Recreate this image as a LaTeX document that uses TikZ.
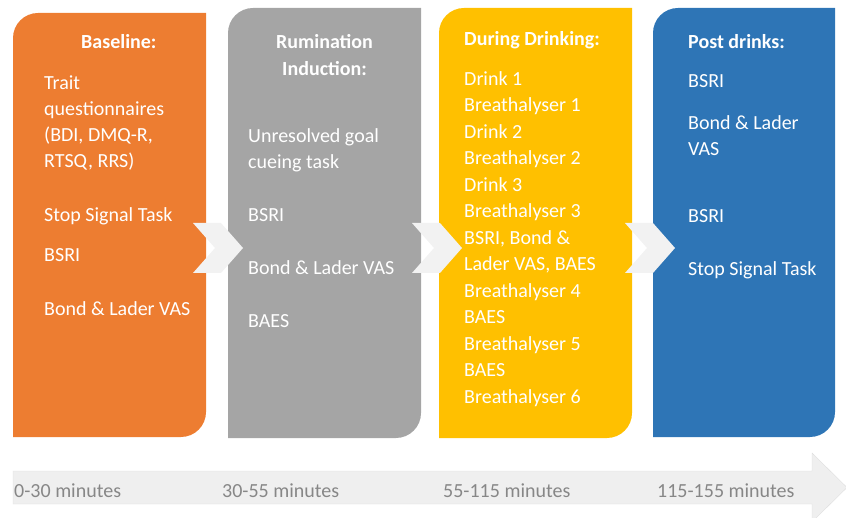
\documentclass[tikz,border=0pt]{standalone}
\usepackage{fontspec}
\setmainfont{Carlito}
\usepackage{tikz}

\definecolor{phaseA}{HTML}{ED7D31}
\definecolor{phaseB}{HTML}{A5A5A5}
\definecolor{phaseC}{HTML}{FFC000}
\definecolor{phaseD}{HTML}{2E75B6}
\definecolor{chev}{HTML}{F2F2F2}
\definecolor{timefill}{HTML}{EFEFEF}
\definecolor{timeline}{HTML}{DEDEDE}
\definecolor{timetext}{HTML}{878787}

\begin{document}
\begin{tikzpicture}[x=1pt, y=-1pt,
  txt/.style = {anchor=base west, inner sep=0, text=white, align=left,
                font=\fontsize{20}{26.2}\selectfont},
  ttl/.style = {txt, font=\fontsize{20}{27}\selectfont\bfseries},
  lbl/.style = {anchor=base west, inner sep=0, text=timetext,
                font=\fontsize{20}{24}\selectfont}]
\useasboundingbox (0,0) rectangle (846,518);
% phase panels
\fill[phaseA] (13,200) [rounded corners=25] -- (13,13) -- (100,13) [sharp corners] -- (206,13) -- (206,200)
  [rounded corners=25] -- (206,437) -- (100,437) [sharp corners] -- (13,437) -- cycle;
\fill[phaseB] (228,200) [rounded corners=25] -- (228,8) -- (320,8) [sharp corners] -- (421,8) -- (421,200)
  [rounded corners=25] -- (421,438) -- (320,438) [sharp corners] -- (228,438) -- cycle;
\fill[phaseC] (439,200) [rounded corners=25] -- (439,8) -- (530,8) [sharp corners] -- (632,8) -- (632,200)
  [rounded corners=25] -- (632,438) -- (530,438) [sharp corners] -- (439,438) -- cycle;
\fill[phaseD] (653,200) [rounded corners=25] -- (653,8) -- (740,8) [sharp corners] -- (835,8) -- (835,200)
  [rounded corners=25] -- (835,437) -- (740,437) [sharp corners] -- (653,437) -- cycle;
% chevrons
\foreach \cx in {193,412,625}
  \fill[chev] (\cx,223) -- ++(28,0) -- ++(22,25) -- ++(-22,25) -- ++(-28,0) -- ++(22,-25) -- cycle;
% time line
\filldraw[fill=timefill, draw=timeline] (13,471) -- (812,471) -- (812,453) -- (847,487.5)
  -- (812,522) -- (812,504) -- (13,504) -- cycle;

% baseline (multi-line nodes sit on their last line)
\node[ttl] (baseT) at (81,49) {Baseline:};
\node[txt] (trait) at (44,168) {Trait\\questionnaires\\(BDI, DMQ-R,\\RTSQ, RRS)};
\node[txt] (sstA) at (44,222) {Stop Signal Task};
\node[txt] (bsriA) at (44,262) {BSRI};
\node[txt] (blA) at (44,316) {Bond \& Lader VAS};
% rumination
\node[ttl, anchor=base, align=center] (rumT) at (324.5,76) {Rumination\\Induction:};
\node[txt] (goal) at (248,169) {Unresolved goal\\cueing task};
\node[txt] (bsriB) at (248,222) {BSRI};
\node[txt] (blB) at (248,275) {Bond \& Lader VAS};
\node[txt] (baesB) at (248,328) {BAES};
% drinking
\node[ttl] (drinkT) at (464,46) {During Drinking:};
\node[txt, font=\fontsize{20}{26.5}\selectfont] (drinks) at (464,403)
  {Drink 1\\Breathalyser 1\\Drink 2\\Breathalyser 2\\Drink 3\\Breathalyser 3\\BSRI, Bond \&\\Lader VAS, BAES\\Breathalyser 4\\BAES\\Breathalyser 5\\BAES\\Breathalyser 6};
% post drinks
\node[ttl] (postT) at (688,49) {Post drinks:};
\node[txt] (bsriD) at (688,88) {BSRI};
\node[txt] (blD) at (688,156) {Bond \& Lader\\VAS};
\node[txt] (bsriE) at (688,223) {BSRI};
\node[txt] (sstD) at (688,276) {Stop Signal Task};

% time labels
\node[lbl] (t1) at (14,497) {0-30 minutes};
\node[lbl] (t2) at (222,497) {30-55 minutes};
\node[lbl] (t3) at (443,497) {55-115 minutes};
\node[lbl] (t4) at (657,497) {115-155 minutes};
\end{tikzpicture}
\end{document}
